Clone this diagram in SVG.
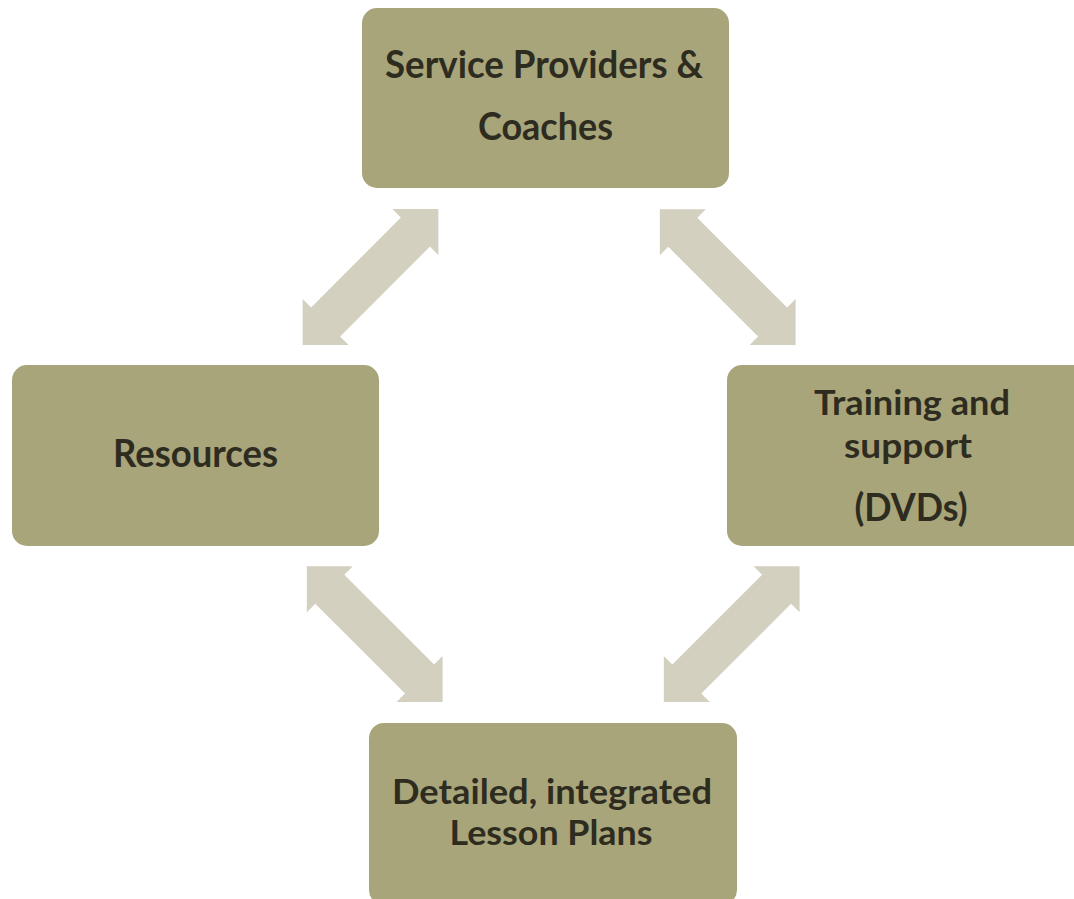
<svg xmlns="http://www.w3.org/2000/svg" xmlns:xlink="http://www.w3.org/1999/xlink" width="1074" height="899" viewBox="0 0 1074 899">
  <style>
    .box { fill: #a8a57b; }
    .arrow { fill: #d3d0bf; }
    .label { font-family: "Lato", "Open Sans", "Liberation Sans", sans-serif; font-weight: 700; font-size: 38px; fill: #2e2c1f; text-anchor: middle; }
    .tight { font-size: 35px; }
  </style>
  <defs>
    <!-- double-headed block arrow, centred on the origin, pointing along x -->
    <path id="dbl-arrow" d="M-96,0 L-63.5,-32.5 L-63.5,-20.5 L63.5,-20.5 L63.5,-32.5 L96,0 L63.5,32.5 L63.5,20.5 L-63.5,20.5 L-63.5,32.5 Z"/>
  </defs>

  <rect width="1074" height="899" fill="#ffffff"/>

  <g id="connectors">
    <use xlink:href="#dbl-arrow" class="arrow" transform="translate(370.5,277) rotate(-45)"/>
    <use xlink:href="#dbl-arrow" class="arrow" transform="translate(727.7,277.2) rotate(45)"/>
    <use xlink:href="#dbl-arrow" class="arrow" transform="translate(374.7,634.2) rotate(45)"/>
    <use xlink:href="#dbl-arrow" class="arrow" transform="translate(731.7,634.2) rotate(-45)"/>
  </g>

  <g id="service-providers">
    <rect class="box" x="362" y="8" width="367" height="180" rx="15"/>
    <text class="label" x="544" y="78" textLength="318" lengthAdjust="spacingAndGlyphs">Service Providers &amp;</text>
    <text class="label" x="545.5" y="140" textLength="135" lengthAdjust="spacingAndGlyphs">Coaches</text>
  </g>

  <g id="resources">
    <rect class="box" x="12" y="365" width="367" height="181" rx="15"/>
    <text class="label" x="195.5" y="467" textLength="165" lengthAdjust="spacingAndGlyphs">Resources</text>
  </g>

  <g id="training">
    <rect class="box" x="727" y="365" width="367" height="181" rx="15"/>
    <text class="label tight" x="912" y="415" textLength="196" lengthAdjust="spacingAndGlyphs">Training and</text>
    <text class="label tight" x="908" y="458" textLength="128" lengthAdjust="spacingAndGlyphs">support</text>
    <text class="label" x="911" y="521" textLength="113" lengthAdjust="spacingAndGlyphs">(DVDs)</text>
  </g>

  <g id="lesson-plans">
    <rect class="box" x="369" y="723" width="368" height="182" rx="15"/>
    <text class="label tight" x="552" y="804" textLength="320" lengthAdjust="spacingAndGlyphs">Detailed, integrated</text>
    <text class="label tight" x="551" y="845" textLength="203" lengthAdjust="spacingAndGlyphs">Lesson Plans</text>
  </g>
</svg>
